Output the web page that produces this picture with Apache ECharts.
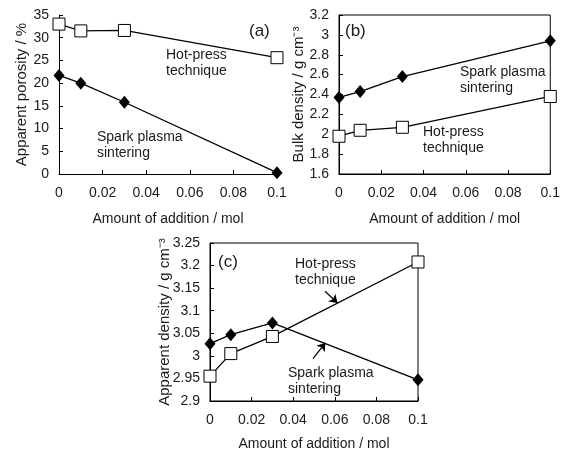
<!DOCTYPE html>
<html>
<head>
<meta charset="utf-8">
<script src="https://cdn.jsdelivr.net/npm/echarts@6/dist/echarts.min.js"></script>
<style>
  html, body { margin: 0; padding: 0; background: #fff; }
  #chart { width: 563px; height: 452px; }
</style>
</head>
<body>
<div id="chart"></div>
<script>
// amount of addition (mol)
var addition = [0, 0.01, 0.03, 0.1];

// (a) apparent porosity, %
var porosityHP = [33.0, 31.5, 31.6, 25.6];
var porositySPS = [21.7, 20.0, 15.8, 0.3];

// (b) bulk density, g cm-3
var bulkSPS = [2.37, 2.43, 2.58, 2.94];
var bulkHP = [1.98, 2.04, 2.07, 2.38];

// (c) apparent density, g cm-3
var appSPS = [3.027, 3.047, 3.073, 2.947];
var appHP = [2.955, 3.005, 3.043, 3.208];

function pairs(xs, ys) {
    return xs.map(function (x, i) { return [x, ys[i]]; });
}

var chart = echarts.init(document.getElementById('chart'));
var font = 'Liberation Sans, Arial, sans-serif';
var txt = '#1a1a1a';

function xAxisFor(idx, gap) {
    return {
        type: 'value', gridIndex: idx, min: 0, max: 0.1, interval: 0.02,
        name: 'Amount of addition / mol', nameLocation: 'middle', nameGap: gap,
        nameTextStyle: {fontFamily: font, fontSize: 14, color: txt},
        axisLine: {lineStyle: {color: '#000', width: 1}},
        axisTick: {inside: true, length: 4, lineStyle: {color: '#000'}},
        axisLabel: {fontFamily: font, fontSize: 14, color: txt, margin: 12},
        splitLine: {show: false}
    };
}
function yAxisFor(idx, min, max, interval, name, gap) {
    return {
        type: 'value', gridIndex: idx, min: min, max: max, interval: interval,
        name: name, nameLocation: 'middle', nameGap: gap, nameRotate: 90,
        nameMoveOverlap: false,
        nameTextStyle: {fontFamily: font, fontSize: 15, color: txt},
        axisLine: {show: true, lineStyle: {color: '#000', width: 1}},
        axisTick: {show: true, inside: true, length: 4, lineStyle: {color: '#000'}},
        axisLabel: {fontFamily: font, fontSize: 14, color: txt, margin: 10},
        splitLine: {show: false}
    };
}
function hp(idx, data) {
    return {
        type: 'line', xAxisIndex: idx, yAxisIndex: idx, data: data,
        symbol: 'rect', symbolSize: 12,
        itemStyle: {color: '#fff', borderColor: '#000', borderWidth: 1},
        lineStyle: {color: '#000', width: 1.3}, z: 3
    };
}
function sps(idx, data) {
    return {
        type: 'line', xAxisIndex: idx, yAxisIndex: idx, data: data,
        symbol: 'diamond', symbolSize: [11, 13],
        itemStyle: {color: '#000'},
        lineStyle: {color: '#000', width: 1.3}, z: 3
    };
}
function label(x, y, text, size) {
    return {type: 'text', left: x, top: y,
        style: {text: text, fontFamily: font, fontSize: size || 14, fill: txt, lineHeight: 16}};
}

var arrowLine = {
    silent: true, symbol: ['none', 'arrow'], symbolSize: 8,
    lineStyle: {color: '#000', type: 'solid', width: 1.2},
    label: {show: false}
};

var option = {
    animation: false,
    grid: [
        {left: 59, top: 15, width: 218, height: 159},
        {left: 339, top: 15, width: 214, height: 159, show: true, borderColor: '#000', borderWidth: 1},
        {left: 210, top: 243, width: 208, height: 160, show: true, borderColor: '#000', borderWidth: 1}
    ],
    xAxis: [xAxisFor(0, 38), xAxisFor(1, 38), xAxisFor(2, 36)],
    yAxis: [
        yAxisFor(0, 0, 35, 5, 'Apparent porosity / %', 30),
        yAxisFor(1, 1.6, 3.2, 0.2, 'Bulk density / g cm\u207B\u00B3', 33),
        yAxisFor(2, 2.9, 3.25, 0.05, 'Apparent density / g cm\u207B\u00B3', 38)
    ],
    series: [
        hp(0, pairs(addition, porosityHP)),
        sps(0, pairs(addition, porositySPS)),
        sps(1, pairs(addition, bulkSPS)),
        hp(1, pairs(addition, bulkHP)),
        Object.assign(sps(2, pairs(addition, appSPS)), {
            markLine: Object.assign({}, arrowLine, {
                data: [[{coord: [0.0495, 2.994]}, {coord: [0.0555, 3.029]}]]
            })
        }),
        Object.assign(hp(2, pairs(addition, appHP)), {
            markLine: Object.assign({}, arrowLine, {
                data: [[{coord: [0.0553, 3.143]}, {coord: [0.0613, 3.117]}]]
            })
        })
    ],
    graphic: [
        label(249, 23, '(a)', 17),
        label(166, 47, 'Hot-press\ntechnique'),
        label(97, 129, 'Spark plasma\nsintering'),
        label(345, 23, '(b)', 17),
        label(460, 64, 'Spark plasma\nsintering'),
        label(423, 124, 'Hot-press\ntechnique'),
        label(218, 254, '(c)', 17),
        label(295, 256, 'Hot-press\ntechnique'),
        label(288, 365, 'Spark plasma\nsintering')
    ]
};
chart.setOption(option);
</script>
</body>
</html>
